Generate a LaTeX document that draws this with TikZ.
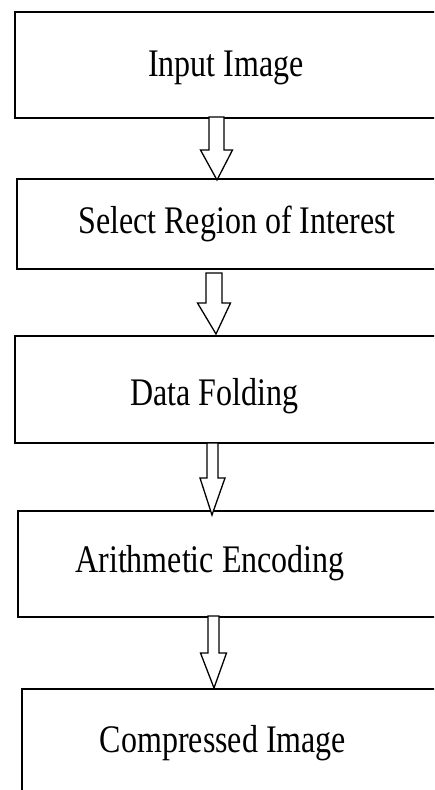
\documentclass[tikz,border=0pt]{standalone}
\usepackage{fontspec}
\usepackage{graphicx}
\setmainfont{Liberation Serif}
\usetikzlibrary{calc}
\newcommand\tallt[1]{\scalebox{1}[1.22]{#1}}
\newcommand\blockarr[5]{%
  \draw[arrowline] let \p1=(#1), \p2=(#2) in
    (\x1-#3pt,\y1) -- (\x1+#3pt,\y1) -- (\x1+#3pt,\y1-#4pt) -- (\x1+#5pt,\y1-#4pt)
    -- (\x2,\y2) -- (\x1-#5pt,\y1-#4pt) -- (\x1-#3pt,\y1-#4pt) -- cycle;}
\begin{document}
\begin{tikzpicture}[x=1pt,y=-1pt,
  box/.style={draw, line width=1.5pt, minimum width=446pt, anchor=north west, inner sep=0pt},
  lbl/.style={anchor=base, font=\fontsize{32}{38}\selectfont, inner sep=0pt},
  arrowline/.style={draw, fill=white, line width=1.3pt, line join=miter}]
\useasboundingbox (0,0) rectangle (434,790);
\clip (0,0) rectangle (434,790);
\fill[white] (0,0) rectangle (434,790);
\node[box, minimum height=106pt] (b1) at (14,11) {};
\node[box, minimum height=90pt]  (b2) at (16,178) {};
\node[box, minimum height=107pt] (b3) at (14,335) {};
\node[box, minimum height=106pt] (b4) at (17,510) {};
\node[box, minimum height=130pt] (b5) at (21,688) {};
\node[lbl] (t1) at (226,76) {\tallt{Input Image}};
\node[lbl] (t2) at (237,233) {\tallt{Select Region of Interest}};
\node[lbl] (t3) at (214,405) {\tallt{Data Folding}};
\node[lbl] (t4) at (210,572) {\tallt{Arithmetic Encoding}};
\node[lbl] (t5) at (223,752) {\tallt{Compressed Image}};
\coordinate (s1) at (216.5,117); \coordinate (e1) at (217,180);
\coordinate (s2) at (214,273);   \coordinate (e2) at (216,334);
\coordinate (s3) at (212.5,443); \coordinate (e3) at (212,515);
\coordinate (s4) at (213.5,616); \coordinate (e4) at (214,688);
\blockarr{s1}{e1}{7.5}{33}{16}
\blockarr{s2}{e2}{8}{30}{16.5}
\blockarr{s3}{e3}{5.5}{35}{12.5}
\blockarr{s4}{e4}{5.5}{37}{13}
\end{tikzpicture}
\end{document}
